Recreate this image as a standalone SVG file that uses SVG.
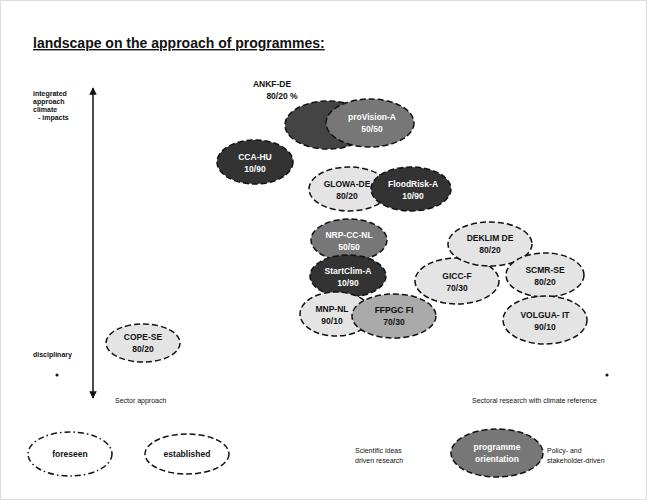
<svg xmlns="http://www.w3.org/2000/svg" width="647" height="500" viewBox="0 0 647 500">
<defs>
<style>
text{font-family:"Liberation Sans",Arial,sans-serif;}
.e{stroke:#111;stroke-width:1.5;stroke-dasharray:6 3;}
.dk{fill:#333;}
.md{fill:#777;}
.lt{fill:#e4e4e4;}
.gr{fill:#aaa;}
.tw{fill:#fff;font-size:8.5px;font-weight:bold;text-anchor:middle;}
.tb{fill:#111;font-size:8.5px;font-weight:bold;text-anchor:middle;}
.s{fill:#111;font-size:7px;}
</style>
<marker id="ah" viewBox="0 0 10 10" refX="9" refY="5" markerWidth="5" markerHeight="5" orient="auto-start-reverse"><path d="M0,0L10,5L0,10z" fill="#111"/></marker>
</defs>
<rect x="0.5" y="0.5" width="646" height="499" fill="#fff" stroke="#ddd"/>
<text x="33" y="48" font-size="14" font-weight="bold" fill="#111" text-decoration="underline">landscape on the approach of programmes:</text>
<g id="connectors">
<line x1="93" y1="398" x2="93" y2="88" stroke="#111" stroke-width="1.5" marker-start="url(#ah)" marker-end="url(#ah)"/>
</g>
<g id="axis-labels">
<text class="s" x="33" y="96" font-weight="bold">integrated</text>
<text class="s" x="33" y="104" font-weight="bold">approach</text>
<text class="s" x="33" y="112" font-weight="bold">climate</text>
<text class="s" x="38" y="120" font-weight="bold">- impacts</text>
<text class="s" x="33" y="357" font-weight="bold">disciplinary</text>
<circle cx="57" cy="375" r="1.5" fill="#111"/>
<circle cx="607" cy="375" r="1.5" fill="#111"/>
<text class="s" x="115" y="403">Sector approach</text>
<text class="s" x="472" y="403">Sectoral research with climate reference</text>
</g>
<g id="ANKF-DE">
<ellipse class="e" cx="328" cy="125" rx="43" ry="24" fill="#444"/>
<text class="tb" x="272" y="87">ANKF-DE</text>
<text class="tb" x="282" y="99">80/20 %</text>
</g>
<g id="proVision-A"><ellipse class="e md" cx="370" cy="123" rx="44" ry="24"/><text class="tw" x="372" y="120">proVision-A</text><text class="tw" x="372" y="132">50/50</text></g>
<g id="CCA-HU"><ellipse class="e dk" cx="255" cy="162" rx="38" ry="22"/><text class="tw" x="255" y="160">CCA-HU</text><text class="tw" x="255" y="172">10/90</text></g>
<g id="GLOWA-DE"><ellipse class="e lt" cx="349" cy="189" rx="40" ry="22"/><text class="tb" x="347" y="187">GLOWA-DE</text><text class="tb" x="347" y="199">80/20</text></g>
<g id="FloodRisk-A"><ellipse class="e dk" cx="411" cy="189" rx="40" ry="22"/><text class="tw" x="413" y="187">FloodRisk-A</text><text class="tw" x="413" y="199">10/90</text></g>
<g id="NRP-CC-NL"><ellipse class="e md" cx="349" cy="240" rx="38" ry="21"/><text class="tw" x="349" y="238">NRP-CC-NL</text><text class="tw" x="349" y="250">50/50</text></g>
<g id="StartClim-A"><ellipse class="e dk" cx="348" cy="276" rx="38" ry="21"/><text class="tw" x="348" y="274">StartClim-A</text><text class="tw" x="348" y="286">10/90</text></g>
<g id="MNP-NL"><ellipse class="e lt" cx="336" cy="314" rx="36" ry="22"/><text class="tb" x="332" y="312">MNP-NL</text><text class="tb" x="332" y="324">90/10</text></g>
<g id="FFPGC-FI"><ellipse class="e gr" cx="394" cy="316" rx="42" ry="22"/><text class="tb" x="394" y="313">FFPGC FI</text><text class="tb" x="394" y="325">70/30</text></g>
<g id="GICC-F"><ellipse class="e lt" cx="457" cy="281" rx="42" ry="23"/><text class="tb" x="457" y="279">GICC-F</text><text class="tb" x="457" y="291">70/30</text></g>
<g id="DEKLIM-DE"><ellipse class="e lt" cx="490" cy="244" rx="42" ry="22"/><text class="tb" x="490" y="241">DEKLIM DE</text><text class="tb" x="490" y="253">80/20</text></g>
<g id="SCMR-SE"><ellipse class="e lt" cx="545" cy="275" rx="39" ry="22"/><text class="tb" x="545" y="273">SCMR-SE</text><text class="tb" x="545" y="285">80/20</text></g>
<g id="VOLGUA-IT"><ellipse class="e lt" cx="545" cy="320" rx="42" ry="24"/><text class="tb" x="545" y="318">VOLGUA- IT</text><text class="tb" x="545" y="330">90/10</text></g>
<g id="COPE-SE"><ellipse class="e lt" cx="143" cy="343" rx="37" ry="19"/><text class="tb" x="143" y="340">COPE-SE</text><text class="tb" x="143" y="352">80/20</text></g>
<g id="legend-foreseen"><ellipse cx="70" cy="454" rx="42" ry="22" fill="#fff" stroke="#111" stroke-width="1.5" stroke-dasharray="6 3 1.5 3"/><text class="tb" x="70" y="457">foreseen</text></g>
<g id="legend-established"><ellipse class="e" cx="187" cy="454" rx="42" ry="20" fill="#fff"/><text class="tb" x="187" y="457">established</text></g>
<g id="legend-orientation">
<ellipse class="e md" cx="497" cy="453" rx="46" ry="24"/>
<text class="tw" x="497" y="450">programme</text><text class="tw" x="497" y="462">orientation</text>
<text class="s" x="355" y="453">Scientific ideas</text><text class="s" x="355" y="463">driven research</text>
<text class="s" x="547" y="453">Policy- and</text><text class="s" x="547" y="463">stakeholder-driven</text>
</g>
</svg>
